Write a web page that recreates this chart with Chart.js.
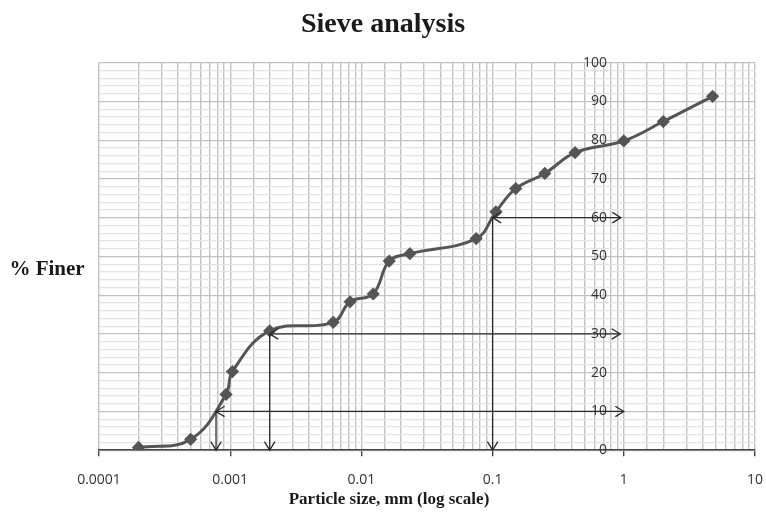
<!DOCTYPE html>
<html>
<head>
<meta charset="utf-8">
<script src="https://cdn.jsdelivr.net/npm/chart.js@4"></script>
<style>
  html, body { margin: 0; padding: 0; background: #fff; }
  #wrap { width: 766px; height: 512px; }
</style>
</head>
<body>
<div id="wrap"><canvas id="sieveChart" width="766" height="512"></canvas></div>
<script>
  // grain size (mm) and % finer
  var sizes = [0.0002, 0.0005, 0.00093, 0.00104, 0.002, 0.0061, 0.0082, 0.0123, 0.0163, 0.0234, 0.075, 0.106, 0.15, 0.25, 0.425, 1.0, 2.0, 4.75];
  var finer = [0.7, 2.8, 14.4, 20.3, 30.8, 33.0, 38.3, 40.3, 48.8, 50.7, 54.6, 61.5, 67.5, 71.4, 76.8, 79.8, 84.8, 91.3];

  var xTickLabels = ['0.0001', '0.001', '0.01', '0.1', '1', '10'];
  var yTickLabels = ['0', '10', '20', '30', '40', '50', '60', '70', '80', '90', '100'];

  // D10, D30, D60 guide lines
  var d10 = [{ x: 0.00078, y: 10 }, { x: 1.0, y: 10 }];
  var d10Down = [{ x: 0.00078, y: 10 }, { x: 0.00078, y: 0 }];
  var d30 = [{ x: 0.002, y: 30 }, { x: 0.94, y: 30 }];
  var d30Down = [{ x: 0.002, y: 30 }, { x: 0.002, y: 0 }];
  var d60 = [{ x: 0.1, y: 60 }, { x: 0.95, y: 60 }];
  var d60Down = [{ x: 0.1, y: 60 }, { x: 0.1, y: 0 }];

  function guide(pts, heads) {
    return {
      data: pts,
      borderColor: '#2b2b2b',
      borderWidth: 1.3,
      pointRadius: 0,
      showLine: true,
      tension: 0,
      arrowHeads: heads
    };
  }

  var arrowPlugin = {
    id: 'arrowPlugin',
    afterDatasetsDraw: function(chart) {
      var ctx = chart.ctx;
      chart.data.datasets.forEach(function(ds, i) {
        if (!ds.arrowHeads) return;
        var pts = chart.getDatasetMeta(i).data;
        var a = pts[0], b = pts[pts.length - 1];
        ctx.save();
        ctx.strokeStyle = '#2b2b2b';
        ctx.lineWidth = 1.3;
        function head(tip, from) {
          var ang = Math.atan2(tip.y - from.y, tip.x - from.x);
          var len = 10, spread = 0.55;
          ctx.beginPath();
          ctx.moveTo(tip.x - len * Math.cos(ang - spread), tip.y - len * Math.sin(ang - spread));
          ctx.lineTo(tip.x, tip.y);
          ctx.lineTo(tip.x - len * Math.cos(ang + spread), tip.y - len * Math.sin(ang + spread));
          ctx.stroke();
        }
        head(b, a);
        if (ds.arrowHeads === 'both') head(a, b);
        ctx.restore();
      });
    }
  };

  var titlesPlugin = {
    id: 'titlesPlugin',
    afterDraw: function(chart) {
      var ctx = chart.ctx;
      ctx.save();
      ctx.fillStyle = '#1a1a1a';
      ctx.textBaseline = 'middle';
      ctx.textAlign = 'center';
      ctx.font = 'bold 17px "Liberation Serif", "Times New Roman", serif';
      ctx.fillText('Particle size, mm (log scale)', 389, 500);
      ctx.font = 'bold 21px "Liberation Serif", "Times New Roman", serif';
      ctx.fillText('% Finer', 47, 270);
      ctx.restore();
    }
  };

  var ctx = document.getElementById('sieveChart').getContext('2d');

  new Chart(ctx, {
    type: 'scatter',
    data: {
      datasets: [
        guide(d10, 'both'),
        guide(d10Down, 'end'),
        guide(d30, 'both'),
        guide(d30Down, 'end'),
        guide(d60, 'both'),
        guide(d60Down, 'end'),
        {
          data: sizes.map(function(s, i) { return { x: s, y: finer[i] }; }),
          showLine: true,
          tension: 0.4,
          borderColor: '#555555',
          borderWidth: 3,
          pointStyle: 'rectRot',
          pointRadius: 4.5,
          pointBackgroundColor: '#555555',
          pointBorderColor: '#555555'
        }
      ]
    },
    options: {
      responsive: false,
      animation: false,
      layout: { padding: { left: 0, right: 0, top: 0, bottom: 9 } },
      plugins: {
        legend: { display: false },
        tooltip: { enabled: false },
        title: {
          display: true,
          text: 'Sieve analysis',
          color: '#1a1a1a',
          font: { family: '"Liberation Serif", "Times New Roman", serif', size: 28, weight: 'bold' },
          padding: { top: 8, bottom: 21 }
        }
      },
      scales: {
        x: {
          type: 'logarithmic',
          min: 0.0001,
          max: 10,
          afterFit: function(scale) {
            scale.paddingLeft = 99;
            scale.paddingRight = 11;
          },
          border: { display: true, color: '#444', width: 1.5 },
          grid: {
            color: '#c2c2c2',
            lineWidth: 1.4,
            tickLength: 6,
            tickColor: function(c) {
              var l = Math.log10(c.tick.value);
              return Math.abs(l - Math.round(l)) < 1e-6 ? '#444' : 'rgba(0,0,0,0)';
            }
          },
          ticks: {
            autoSkip: false,
            maxRotation: 0,
            minRotation: 0,
            padding: 15,
            color: '#333',
            font: { family: '"Open Sans", "DejaVu Sans", sans-serif', size: 14 },
            callback: function(v) {
              var l = Math.log10(v);
              if (Math.abs(l - Math.round(l)) > 1e-6) return '';
              return xTickLabels[Math.round(l) + 4];
            }
          }
        },
        y: {
          position: { x: 0.745 },
          min: 0,
          max: 100,
          border: { display: false },
          grid: {
            drawTicks: false,
            lineWidth: 1.2,
            color: function(c) {
              return c.tick.value % 10 === 0 ? '#c2c2c2' : '#e3e3e3';
            }
          },
          ticks: {
            stepSize: 2,
            autoSkip: false,
            padding: 3,
            color: '#333',
            font: { family: '"Open Sans", "DejaVu Sans", sans-serif', size: 14 },
            callback: function(v) {
              return v % 10 === 0 ? yTickLabels[v / 10] : '';
            }
          }
        }
      }
    },
    plugins: [arrowPlugin, titlesPlugin]
  });
</script>
</body>
</html>
